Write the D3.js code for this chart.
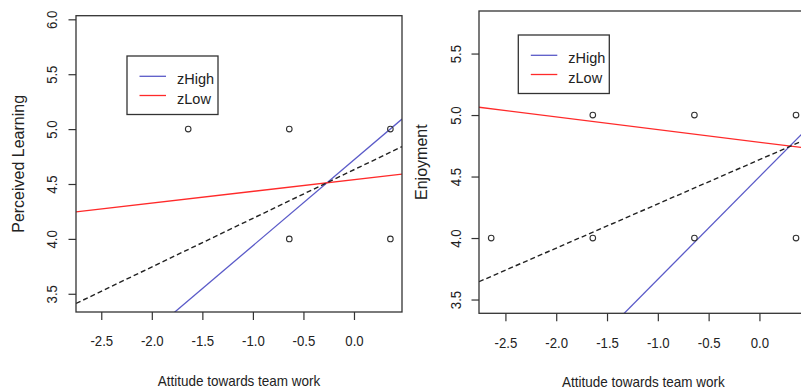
<!DOCTYPE html>
<html>
<head>
<meta charset="utf-8">
<script src="https://cdn.jsdelivr.net/npm/d3@7"></script>
<style>
  html, body { margin: 0; padding: 0; background: #fff; }
  svg { display: block; }
  text { font-family: "Liberation Sans", Arial, sans-serif; fill: #222; }
</style>
</head>
<body>
<svg id="chart" width="801" height="389"></svg>
<script>
// ---------- data ----------
const xTicks = [-2.5, -2.0, -1.5, -1.0, -0.5, 0.0];
const leftYTicks = [3.5, 4.0, 4.5, 5.0, 5.5, 6.0];
const rightYTicks = [3.5, 4.0, 4.5, 5.0, 5.5];

const seriesNames = ["zHigh", "zLow", "overall"];

// Left panel: Perceived Learning
const leftPointsX = [-1.64, -0.64, 0.36, -0.64, 0.36];
const leftPointsY = [5, 5, 5, 4, 4];
const leftIntercepts = [4.72, 4.54, 4.63];
const leftSlopes = [0.782, 0.107, 0.443];

// Right panel: Enjoyment
const rightPointsX = [-2.64, -1.64, -1.64, -0.64, -0.64, 0.36, 0.36];
const rightPointsY = [4, 5, 4, 5, 4, 5, 4];
const rightIntercepts = [4.498, 4.779, 4.637];
const rightSlopes = [0.834, -0.103, 0.3595];

const legendLabels = ["zHigh", "zLow"];

// ---------- drawing ----------
const svg = d3.select("#chart");
const lineColor = { zHigh: "#5a5ac8", zLow: "#ff2a2a", overall: "#222" };

function drawPanel(opt) {
  const g = svg.append("g");
  const x = d3.scaleLinear().domain(opt.xDomain).range([opt.left, opt.right]);
  const y = d3.scaleLinear().domain(opt.yDomain).range([opt.bottom, opt.top]);

  const clipId = "clip-" + opt.id;
  svg.append("defs").append("clipPath").attr("id", clipId)
    .append("rect")
    .attr("x", opt.left).attr("y", opt.top)
    .attr("width", opt.right - opt.left).attr("height", opt.bottom - opt.top);

  // x axis
  const xAxis = g.append("g")
    .attr("transform", `translate(0,${opt.bottom})`)
    .call(d3.axisBottom(x).tickValues(xTicks).tickSize(8).tickFormat(d3.format(".1f")));
  xAxis.select(".domain").remove();
  xAxis.selectAll(".tick line").attr("stroke", "#333").attr("stroke-width", 1.2);
  xAxis.selectAll(".tick text")
    .attr("y", opt.xLabelOffset).attr("dy", 0)
    .attr("transform", "scale(0.85,1)")
    .style("font-size", "15.5px")
    .text(d => d3.format(".1f")(d).replace("\u2212", "-"));

  // y axis
  const yAxis = g.append("g")
    .attr("transform", `translate(${opt.left},0)`)
    .call(d3.axisLeft(y).tickValues(opt.yTicks).tickSize(7.5).tickFormat(d3.format(".1f")));
  yAxis.select(".domain").remove();
  yAxis.selectAll(".tick line").attr("stroke", "#333").attr("stroke-width", 1.2);
  yAxis.selectAll(".tick text")
    .attr("x", 0).attr("y", opt.yLabelOffset).attr("dy", 0)
    .attr("text-anchor", "middle")
    .attr("transform", "rotate(-90) scale(0.85,1)")
    .style("font-size", "15.5px");

  // lines
  const plot = g.append("g").attr("clip-path", `url(#${clipId})`);
  const lineGen = d3.line().x(d => x(d[0])).y(d => y(d[1]));
  seriesNames.forEach((name, i) => {
    const pts = opt.xDomain.map(xv => [xv, opt.intercepts[i] + opt.slopes[i] * xv]);
    plot.append("path")
      .attr("d", lineGen(pts))
      .attr("fill", "none")
      .attr("stroke", lineColor[name])
      .attr("stroke-width", name === "overall" ? 1.4 : 1.3)
      .attr("stroke-dasharray", name === "overall" ? "5,3" : null);
  });

  // points
  plot.selectAll("circle.pt")
    .data(opt.px.map((v, i) => [v, opt.py[i]]))
    .enter().append("circle")
    .attr("class", "pt")
    .attr("cx", d => x(d[0])).attr("cy", d => y(d[1]))
    .attr("r", 2.8)
    .attr("fill", "none").attr("stroke", "#333").attr("stroke-width", 1.1);

  // box
  g.append("rect")
    .attr("x", opt.left).attr("y", opt.top)
    .attr("width", opt.right - opt.left).attr("height", opt.bottom - opt.top)
    .attr("fill", "none").attr("stroke", "#333").attr("stroke-width", 1.3);

  // legend
  const lg = g.append("g").attr("transform", `translate(${opt.legend[0]},${opt.legend[1]})`);
  lg.append("rect").attr("x", 0).attr("y", 0).attr("width", 91).attr("height", 58.5)
    .attr("fill", "#fff").attr("stroke", "#333").attr("stroke-width", 1.3);
  legendLabels.forEach((lab, i) => {
    const yy = 20.3 + i * 19.2;
    lg.append("line").attr("x1", 12.5).attr("x2", 39).attr("y1", yy).attr("y2", yy)
      .attr("stroke", lineColor[lab]).attr("stroke-width", 1.3);
    lg.append("text").attr("x", 50).attr("y", yy + 8)
      .style("font-size", "14.5px").text(lab);
  });

  // axis titles
  const cx = (opt.left + opt.right) / 2;
  g.append("text")
    .attr("text-anchor", "middle")
    .attr("transform", `translate(${cx},${opt.xTitleY}) scale(0.9,1)`)
    .style("font-size", "15px")
    .text("Attitude towards team work");
  g.append("text")
    .attr("text-anchor", "middle")
    .attr("transform", `translate(${opt.yTitleX},${(opt.top + opt.bottom) / 2}) rotate(-90)`)
    .style("font-size", "16px")
    .text(opt.yTitle);
}

drawPanel({
  id: "left",
  left: 76, right: 402, top: 15.7, bottom: 312,
  xDomain: [-2.75, 0.475], yDomain: [3.334, 6.033],
  yTicks: leftYTicks,
  px: leftPointsX, py: leftPointsY,
  intercepts: leftIntercepts, slopes: leftSlopes,
  xLabelOffset: 34, yLabelOffset: -19.3,
  legend: [127, 56],
  xTitleY: 385.5, yTitleX: 24,
  yTitle: "Perceived Learning"
});

drawPanel({
  id: "right",
  left: 479, right: 807.7, top: 11, bottom: 313.3,
  xDomain: [-2.76, 0.475], yDomain: [3.388, 5.846],
  yTicks: rightYTicks,
  px: rightPointsX, py: rightPointsY,
  intercepts: rightIntercepts, slopes: rightSlopes,
  xLabelOffset: 34.7, yLabelOffset: -18,
  legend: [518.3, 35],
  xTitleY: 386.5, yTitleX: 426.5,
  yTitle: "Enjoyment"
});
</script>
</body>
</html>
